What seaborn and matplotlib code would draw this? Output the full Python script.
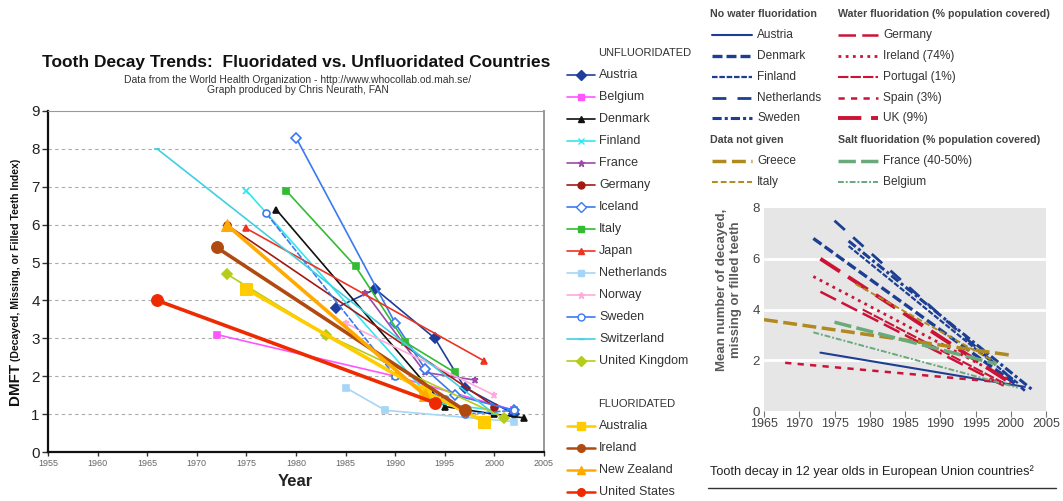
"""
Tooth decay trends: WHO DMFT data (left) and EU 12 year olds (right).
"""

import numpy as np
import pandas as pd
import matplotlib
matplotlib.use("Agg")
import matplotlib.pyplot as plt
from matplotlib.lines import Line2D
import seaborn as sns

W, H = 1063, 501

# ---------------- left chart data (WHO) ----------------
unfl_countries = ["Austria", "Belgium", "Denmark", "Finland", "France", "Germany",
                  "Iceland", "Italy", "Japan", "Netherlands", "Norway", "Sweden",
                  "Switzerland", "United Kingdom"]
unfl_years = [[1984, 1988, 1994, 1997, 2002],
              [1972, 1990, 2002],
              [1978, 1995, 2000, 2003],
              [1975, 1994, 2000],
              [1987, 1993, 1998],
              [1973, 2000],
              [1980, 1990, 1993, 1996, 2002],
              [1979, 1986, 1991, 1996],
              [1975, 1999],
              [1985, 1989, 2002],
              [1985, 2000],
              [1977, 1990, 1995, 1997, 2002],
              [1966, 2000],
              [1973, 1983, 2001]]
unfl_dmft = [[3.8, 4.3, 3.0, 1.7, 1.0],
             [3.1, 2.0, 1.1],
             [6.4, 1.2, 1.0, 0.9],
             [6.9, 1.3, 1.1],
             [4.2, 2.1, 1.9],
             [6.0, 1.2],
             [8.3, 3.4, 2.2, 1.5, 1.1],
             [6.9, 4.9, 2.9, 2.1],
             [5.9, 2.4],
             [1.7, 1.1, 0.8],
             [3.4, 1.5],
             [6.3, 2.0, 1.4, 1.0, 1.1],
             [8.0, 1.0],
             [4.7, 3.1, 0.9]]

fl_countries = ["Australia", "Ireland", "New Zealand", "United States"]
fl_years = [[1975, 1993, 1999],
            [1972, 1997],
            [1973, 1993],
            [1966, 1994]]
fl_dmft = [[4.3, 1.6, 0.8],
           [5.4, 1.1],
           [6.0, 1.5],
           [4.0, 1.3]]

year_ticks = list(range(1955, 2006, 5))
dmft_ticks = list(range(0, 10))

# ---------------- right chart data (EU) ----------------
eu_countries = ["Austria", "Denmark", "Finland", "Netherlands", "Sweden",
                "Germany", "Ireland (74%)", "Portugal (1%)", "Spain (3%)", "UK (9%)",
                "Greece", "Italy", "France (40-50%)", "Belgium"]
eu_start_year = [1973, 1972, 1977, 1975, 1977, 1973, 1972, 1979, 1968, 1973, 1965, 1978, 1975, 1972]
eu_start_val = [2.3, 6.8, 6.5, 7.5, 6.7, 4.7, 5.3, 4.0, 1.9, 6.0, 3.6, 5.0, 3.5, 3.1]
eu_end_year = [2002, 2001, 2001, 2002, 2003, 1999, 2000, 1999, 2000, 2000, 2000, 1998, 1998, 2001]
eu_end_val = [0.95, 1.0, 1.1, 0.8, 0.85, 1.0, 1.2, 1.1, 1.1, 1.1, 2.2, 1.9, 1.85, 0.92]

eu_ticks_x = list(range(1965, 2006, 5))
eu_ticks_y = [0, 2, 4, 6, 8]

# ---------------- styles ----------------
unfl_colors = ["#1f3d9c", "#ff55ff", "#111111", "#33e6ee", "#9a4aa8", "#a31a12",
               "#3a7af0", "#33bb33", "#ee3322", "#a6d6f5", "#ffaadd", "#3a7af0",
               "#40d0e0", "#b5cc18"]
unfl_markers = ["D", "s", "^", "x", "*", "o", "D", "s", "^", "s", "*", "o", "_", "D"]
unfl_open = [False, False, False, False, False, False, True, False, False, False,
             False, True, False, False]
fl_colors = ["#ffcc00", "#b04a10", "#ffaa00", "#ee2a00"]
fl_markers = ["s", "o", "^", "o"]

NAVY, RED, GOLD, GREEN = "#1c3f94", "#cc1236", "#b08a1e", "#69a97a"
eu_colors = [NAVY] * 5 + [RED] * 5 + [GOLD] * 2 + [GREEN] * 2
eu_dashes = ["-", (0, (3, 1.2)), (0, (2.5, 0.8)), (0, (5, 4)), (0, (3, 1, 1, 1)),
             (0, (7, 2.5)), (0, (1, 1.6)), (0, (5, 1)), (0, (2.5, 2.5)), (0, (6, 2.5)),
             (0, (4, 1.6)), (0, (3, 1.5)), (0, (5, 1.5)), (0, (3, 1, 1, 1))]
eu_widths = [1.5, 2.4, 1.6, 2.0, 2.2, 1.8, 2.0, 1.5, 1.8, 2.8, 2.5, 1.4, 2.5, 1.4]

sns.set_style("white")
plt.rcParams["font.family"] = ["Liberation Sans", "DejaVu Sans"]


def fx(px):
    return px / W


def fy(py):
    return 1 - py / H


fig = plt.figure(figsize=(W / 100, H / 100), dpi=100)

# ================= left chart =================
ax = fig.add_axes([fx(48), fy(452), fx(544) - fx(48), fy(111) - fy(452)])
for name, yrs, vals, c, m, op in zip(unfl_countries, unfl_years, unfl_dmft,
                                     unfl_colors, unfl_markers, unfl_open):
    ls = (0, (4, 1)) if name == "Sweden" else "-"
    sns.lineplot(x=yrs, y=vals, ax=ax, color=c, lw=1.2, ls=ls, marker=m, ms=5,
                 mfc="white" if op else c, mec=c, mew=1.2, sort=False,
                 estimator=None, legend=False, zorder=3)
for name, yrs, vals, c, m in zip(fl_countries, fl_years, fl_dmft, fl_colors, fl_markers):
    sns.lineplot(x=yrs, y=vals, ax=ax, color=c, lw=2.6, marker=m, ms=8.5,
                 mfc=c, mec=c, sort=False, estimator=None, legend=False, zorder=4)

ax.set_xlim(1955, 2005)
ax.set_ylim(0, 9)
ax.set_xticks(year_ticks)
ax.set_yticks(dmft_ticks)
ax.tick_params(axis="x", labelsize=6.5, labelcolor="#666666", length=3, width=1,
               direction="out", color="#333333", bottom=True, pad=2)
ax.tick_params(axis="y", labelsize=11, labelcolor="#222222", length=4, width=1,
               direction="out", color="#333333", left=True, pad=2)
for y in dmft_ticks[1:-1]:
    ax.axhline(y, color="#aaaaaa", lw=0.8, ls=(0, (3, 3)), zorder=1)
ax.spines["left"].set_color("#111111")
ax.spines["left"].set_linewidth(1.6)
ax.spines["bottom"].set_color("#111111")
ax.spines["bottom"].set_linewidth(1.6)
ax.spines["top"].set_color("#999999")
ax.spines["right"].set_color("#999999")
ax.spines["right"].set_linewidth(1.4)
ax.set_xlabel("")
ax.set_ylabel("")

fig.text(fx(296), fy(63), "Tooth Decay Trends:  Fluoridated vs. Unfluoridated Countries",
         ha="center", va="center", fontsize=12.5, fontweight="bold", color="#111111")
fig.text(fx(298), fy(80), "Data from the World Health Organization - http://www.whocollab.od.mah.se/",
         ha="center", va="center", fontsize=7.5, color="#333333")
fig.text(fx(298), fy(90), "Graph produced by Chris Neurath, FAN",
         ha="center", va="center", fontsize=7.5, color="#333333")
fig.text(fx(295), fy(481), "Year", ha="center", va="center", fontsize=12,
         fontweight="bold", color="#222222")
fig.text(fx(15), fy(405), "DMFT", rotation=90, ha="center", va="bottom",
         fontsize=11, fontweight="bold", color="#111111")
fig.text(fx(16), fy(361), "(Decayed, Missing, or Filled Teeth Index)", rotation=90,
         ha="center", va="bottom", fontsize=7.6, fontweight="bold", color="#111111")

# left legend
def marker_row(y, color, marker, op, lw, ms):
    fig.add_artist(Line2D([fx(567), fx(581), fx(595)], [fy(y)] * 3, transform=fig.transFigure,
                          color=color, lw=lw, marker=marker, ms=ms, markevery=[1],
                          mfc="white" if op else color, mec=color))


fig.text(fx(598), fy(53), "UNFLUORIDATED", ha="left", va="center", fontsize=8, color="#333333")
for i, (name, c, m, op) in enumerate(zip(unfl_countries, unfl_colors, unfl_markers, unfl_open)):
    y = 75 + i * 22
    marker_row(y, c, m, op, 1.2, 5)
    fig.text(fx(599), fy(y), name, ha="left", va="center", fontsize=9, color="#333333")
fig.text(fx(598), fy(404), "FLUORIDATED", ha="left", va="center", fontsize=8, color="#333333")
for i, (name, c, m) in enumerate(zip(fl_countries, fl_colors, fl_markers)):
    y = 426 + i * 22
    marker_row(y, c, m, False, 1.8, 5.5)
    fig.text(fx(599), fy(y), name, ha="left", va="center", fontsize=9, color="#333333")

# ================= right chart =================
ax2 = fig.add_axes([fx(764), fy(411), fx(1046) - fx(764), fy(208) - fy(411)])
ax2.set_facecolor("#e6e6e6")
eu = pd.DataFrame({"country": eu_countries, "y0": eu_start_year, "v0": eu_start_val,
                   "y1": eu_end_year, "v1": eu_end_val})
for row, c, d, lw in zip(eu.itertuples(), eu_colors, eu_dashes, eu_widths):
    sns.lineplot(x=[row.y0, row.y1], y=[row.v0, row.v1], ax=ax2, color=c, ls=d, lw=lw,
                 legend=False, zorder=3)
ax2.set_xlim(1965, 2005)
ax2.set_ylim(0, 8)
ax2.set_xticks(eu_ticks_x)
ax2.set_yticks(eu_ticks_y)
for y in eu_ticks_y[1:-1]:
    ax2.axhline(y, color="white", lw=2, zorder=1)
for s in ax2.spines.values():
    s.set_visible(False)
ax2.tick_params(axis="x", length=4, width=0.8, color="#777777", direction="out",
                labelsize=9, labelcolor="#444444", bottom=True, pad=1)
ax2.tick_params(axis="y", length=0, labelsize=9.5, labelcolor="#444444", pad=3)
ax2.set_xlabel("")
ax2.set_ylabel("")
fig.text(fx(729), fy(290), "Mean number of decayed,\nmissing or filled teeth", rotation=90,
         ha="center", va="center", fontsize=9.5, fontweight="bold", color="#5a5a5a",
         linespacing=1.3)
fig.text(fx(710), fy(472), "Tooth decay in 12 year olds in European Union countries\u00b2",
         ha="left", va="center", fontsize=9.2, color="#222222")
fig.add_artist(Line2D([fx(708), fx(1056)], [fy(488)] * 2, transform=fig.transFigure,
                      color="#333333", lw=1))

# right legend
def dash_row(x0, y, color, dash, lw):
    fig.add_artist(Line2D([fx(x0), fx(x0 + 40)], [fy(y)] * 2, transform=fig.transFigure,
                          color=color, ls=dash, lw=lw))


headers = [(710, 14, "No water fluoridation"), (838, 14, "Water fluoridation (% population covered)"),
           (710, 140, "Data not given"), (838, 140, "Salt fluoridation (% population covered)")]
for x, y, t in headers:
    fig.text(fx(x), fy(y), t, ha="left", va="center", fontsize=7.7, fontweight="bold",
             color="#444444")
rows_y = [35, 56, 77, 98, 118]
slots = ([(712, y) for y in rows_y] + [(838, y) for y in rows_y]
         + [(712, 161), (712, 182), (838, 161), (838, 182)])
for (x, y), name, c, d, lw in zip(slots, eu_countries, eu_colors, eu_dashes, eu_widths):
    dash_row(x, y, c, d, lw)
    fig.text(fx(x + 45), fy(y), name, ha="left", va="center", fontsize=8.6,
             color="#333333")

fig.savefig("out.png", dpi=100)
